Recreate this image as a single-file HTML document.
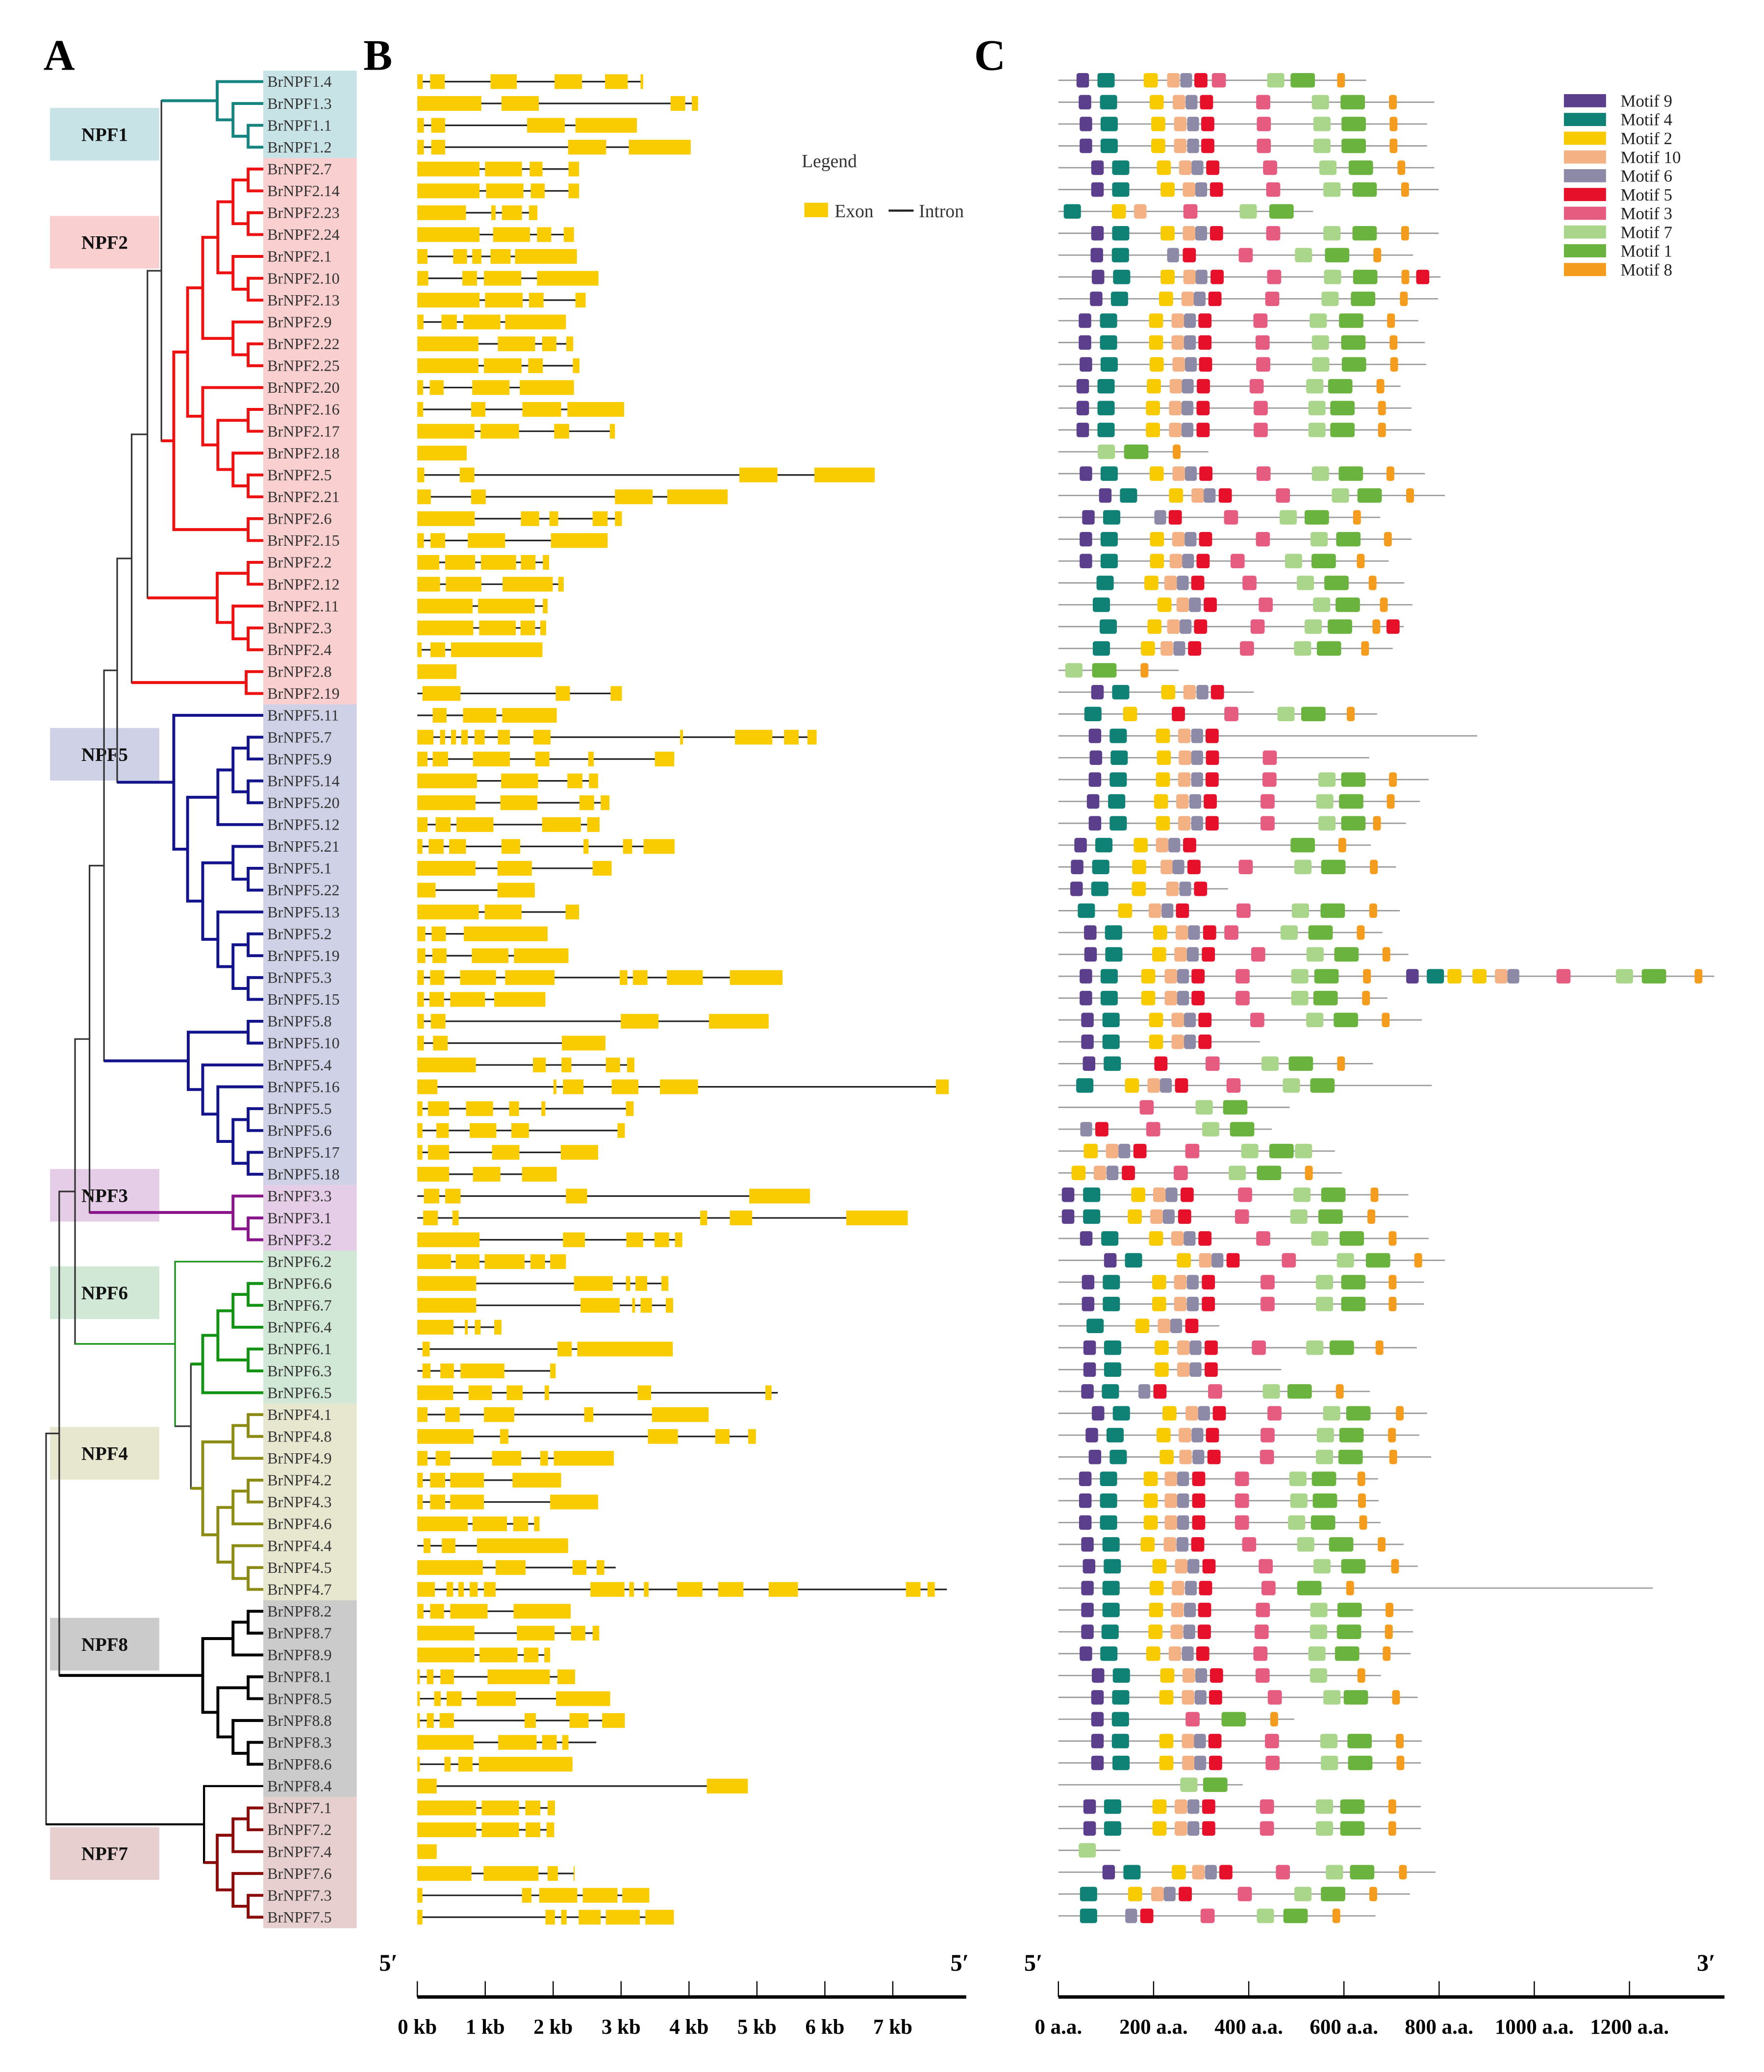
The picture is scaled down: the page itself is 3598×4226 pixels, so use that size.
<!DOCTYPE html>
<html><head><meta charset="utf-8">
<style>
html,body{margin:0;padding:0;background:#fff;}
svg{display:block;}
text{font-family:"Liberation Serif",serif;}
</style></head>
<body>
<svg id="fig" xmlns="http://www.w3.org/2000/svg" width="3598" height="4226" viewBox="0 0 1340 1574" preserveAspectRatio="none">
<rect x="0" y="0" width="1340" height="1574" fill="#fff"/>
<text x="33" y="53" font-size="33" font-weight="bold">A</text>
<text x="276" y="53" font-size="33" font-weight="bold">B</text>
<text x="740" y="53" font-size="33" font-weight="bold">C</text>
<g id="gBg"></g><g id="gTree"></g><g id="gGenes"></g><g id="gMotifs"></g><g id="gAxes"></g><g id="gLeg"></g>
</svg>
<script>
// ---------- data ----------
const geneNames = ["BrNPF1.4","BrNPF1.3","BrNPF1.1","BrNPF1.2",
"BrNPF2.7","BrNPF2.14","BrNPF2.23","BrNPF2.24","BrNPF2.1","BrNPF2.10","BrNPF2.13","BrNPF2.9","BrNPF2.22","BrNPF2.25","BrNPF2.20","BrNPF2.16","BrNPF2.17","BrNPF2.18","BrNPF2.5","BrNPF2.21","BrNPF2.6","BrNPF2.15","BrNPF2.2","BrNPF2.12","BrNPF2.11","BrNPF2.3","BrNPF2.4","BrNPF2.8","BrNPF2.19",
"BrNPF5.11","BrNPF5.7","BrNPF5.9","BrNPF5.14","BrNPF5.20","BrNPF5.12","BrNPF5.21","BrNPF5.1","BrNPF5.22","BrNPF5.13","BrNPF5.2","BrNPF5.19","BrNPF5.3","BrNPF5.15","BrNPF5.8","BrNPF5.10","BrNPF5.4","BrNPF5.16","BrNPF5.5","BrNPF5.6","BrNPF5.17","BrNPF5.18",
"BrNPF3.3","BrNPF3.1","BrNPF3.2",
"BrNPF6.2","BrNPF6.6","BrNPF6.7","BrNPF6.4","BrNPF6.1","BrNPF6.3","BrNPF6.5",
"BrNPF4.1","BrNPF4.8","BrNPF4.9","BrNPF4.2","BrNPF4.3","BrNPF4.6","BrNPF4.4","BrNPF4.5","BrNPF4.7",
"BrNPF8.2","BrNPF8.7","BrNPF8.9","BrNPF8.1","BrNPF8.5","BrNPF8.8","BrNPF8.3","BrNPF8.6","BrNPF8.4",
"BrNPF7.1","BrNPF7.2","BrNPF7.4","BrNPF7.6","BrNPF7.3","BrNPF7.5"];

const groupNames = ["NPF1","NPF2","NPF5","NPF3","NPF6","NPF4","NPF8","NPF7"];
const groupFirst = [0,4,29,51,54,61,70,79];
const groupLast  = [3,28,50,53,60,69,78,84];
const groupBoxTop = [82,164,553,888,962,1084,1229,1388];
const groupBg = ["#c7e3e5","#f9cfcf","#cfd1e7","#e6cde7","#d0e8d5","#e7e7cf","#cbcbcb","#e8cfcf"];
const groupCol = ["#16857f","#ee1111","#13138c","#8a158a","#139313","#8c8c14","#000000","#8b0a0a"];

// exon coordinates (genomic units, 185.6 units = 1 kb, gene starts at 30)
const exons = [
[[30,45],[65,105],[230,302],[405,480],[543,605],[640,647]],
[[30,205],[260,362],[722,762],[780,797]],
[[30,48],[68,106],[330,433],[462,630]],
[[30,48],[68,106],[442,546],[608,777]],
[[30,200],[215,316],[337,372],[443,472]],
[[30,200],[218,320],[340,378],[443,472]],
[[30,163],[232,244],[261,316],[335,358]],
[[30,200],[237,338],[357,396],[430,458]],
[[30,58],[128,166],[180,205],[230,285],[297,466]],
[[30,60],[153,193],[212,314],[357,525]],
[[30,200],[215,318],[335,375],[462,490]],
[[30,47],[96,138],[156,257],[270,436]],
[[30,197],[250,352],[371,410],[437,456]],
[[30,197],[212,315],[333,373],[455,473]],
[[30,46],[64,102],[180,282],[310,458]],
[[30,46],[177,216],[317,423],[440,595]],
[[30,186],[203,308],[404,445],[556,570]],
[[30,165]],
[[30,49],[146,186],[910,1014],[1115,1280]],
[[30,67],[177,217],[570,673],[713,878]],
[[30,187],[313,363],[391,415],[509,550],[570,589]],
[[30,48],[66,106],[168,270],[395,550]],
[[30,90],[106,188],[204,300],[313,353],[373,390]],
[[30,92],[108,205],[263,400],[415,430]],
[[30,181],[196,351],[373,386]],
[[30,183],[199,299],[312,352],[366,382]],
[[30,42],[66,106],[122,372]],
[[30,137]],
[[44,148],[408,447],[558,589]],
[[72,110],[155,246],[262,411]],
[[30,74],[92,106],[122,136],[150,168],[186,214],[250,283],[347,394],[748,756],[898,1000],[1032,1072],[1096,1121]],
[[30,58],[72,114],[182,283],[352,391],[497,512],[679,732]],
[[30,193],[259,360],[440,481],[499,524]],
[[30,189],[257,358],[473,513],[531,555]],
[[30,58],[80,121],[137,238],[371,477],[494,528]],
[[30,44],[61,102],[117,163],[260,311],[484,498],[592,617],[648,733]],
[[30,189],[249,343],[509,561]],
[[30,80],[249,351]],
[[30,198],[214,315],[435,472]],
[[30,52],[69,108],[157,386]],
[[30,52],[71,110],[179,279],[294,443]],
[[30,48],[65,104],[147,245],[270,405],[583,604],[619,659],[712,810],[884,1028]],
[[30,48],[63,103],[120,215],[240,380]],
[[30,48],[67,107],[586,689],[827,990]],
[[30,48],[73,113],[425,544]],
[[30,190],[346,381],[424,451],[545,584],[603,623]],
[[30,85],[402,410],[428,484],[561,634],[693,797],[1447,1482]],
[[30,44],[59,117],[163,237],[281,308],[369,380],[600,621]],
[[30,44],[82,116],[173,246],[287,335],[577,597]],
[[30,44],[59,117],[234,309],[422,524]],
[[30,117],[182,257],[316,411]],
[[48,90],[106,148],[436,494],[937,1103]],
[[46,86],[126,143],[803,822],[884,945],[1202,1370]],
[[30,200],[428,488],[601,647],[678,718],[734,754]],
[[30,122],[135,200],[214,323],[339,379],[393,436]],
[[30,191],[458,564],[600,612],[626,658],[697,716]],
[[30,191],[476,583],[617,625],[640,671],[709,729]],
[[30,129],[160,168],[187,203],[240,260]],
[[44,64],[413,452],[467,728]],
[[44,66],[93,130],[148,268],[393,408]],
[[30,128],[170,234],[274,318],[378,390],[632,669],[981,998]],
[[30,58],[106,146],[212,295],[486,511],[671,826]],
[[30,184],[256,279],[660,742],[844,883],[934,955]],
[[30,58],[80,120],[234,314],[366,387],[403,567]],
[[30,45],[65,106],[120,212],[290,423]],
[[30,45],[65,106],[120,212],[393,524]],
[[30,168],[181,275],[292,333],[349,364]],
[[47,66],[97,134],[193,442]],
[[30,209],[244,326],[454,492],[520,541]],
[[30,78],[110,128],[142,157],[173,195],[212,244],[503,596],[609,622],[649,662],[740,809],[852,921],[990,1070],[1365,1405],[1424,1444]],
[[30,47],[65,103],[120,222],[293,449]],
[[30,186],[302,405],[450,489],[509,527]],
[[30,186],[200,304],[321,361],[377,393]],
[[30,37],[56,74],[93,130],[222,392],[413,461]],
[[30,37],[76,94],[110,151],[192,299],[409,557]],
[[30,37],[56,75],[91,130],[323,354],[446,498],[535,597]],
[[30,184],[251,356],[371,411],[426,443]],
[[30,37],[104,121],[142,181],[198,454]],
[[30,83],[821,933]],
[[30,191],[206,308],[325,366],[386,406]],
[[30,191],[206,308],[326,366],[383,404]],
[[30,83]],
[[30,178],[211,361],[386,414],[457,460]],
[[30,44],[316,342],[363,467],[482,577],[590,664]],
[[30,44],[380,406],[423,438],[471,531],[545,638],[653,731]]];
const geneEndOverride = {60:1015, 68:572, 69:1477, 76:519};

// motifs: flat [motifId, start, ...] (protein units, 1.523 units = 1 aa, start at 55)
const motifIds = [9,4,2,10,6,5,3,7,1,8];
const motifColors = ["#5b3f8c","#0f8275","#f8ca00","#f4b184","#8d8aa8","#e6102a","#e65b80","#a9d68b","#6bb33f","#f39c1d"];
const motifLen = {9:40,4:55,2:45,10:40,6:38,5:42,3:45,7:55,1:78,8:25};
const motifs = [
[9,113,4,180,2,328,10,403,6,445,5,490,3,546,7,723,1,798,8,947],
[9,120,4,188,2,347,10,421,6,462,5,508,3,688,7,866,1,958,8,1113],
[9,123,4,190,2,352,10,425,6,467,5,512,3,690,7,871,1,961,8,1115],
[9,123,4,190,2,352,10,425,6,467,5,512,3,690,7,871,1,961,8,1115],
[9,160,4,227,2,370,10,441,6,481,5,528,3,710,7,890,1,984,8,1140],
[9,160,4,227,2,382,10,453,6,493,5,540,3,720,7,903,1,996,8,1152],
[4,72,2,226,10,297,3,455,7,635,1,730],
[9,160,4,227,2,382,10,453,6,493,5,540,3,720,7,903,1,996,8,1152],
[9,158,4,226,6,403,5,453,3,632,7,812,1,908,8,1063],
[9,162,4,230,2,382,10,455,6,494,5,542,3,723,7,905,1,998,8,1153,5,1200],
[9,156,4,223,2,377,10,449,6,488,5,535,3,717,7,897,1,991,8,1148],
[9,120,4,188,2,345,10,417,6,457,5,503,3,679,7,859,1,953,8,1107],
[9,120,4,188,2,345,10,417,6,457,5,503,3,686,7,866,1,960,8,1115],
[9,123,4,190,2,347,10,420,6,460,5,505,3,688,7,867,1,962,8,1117],
[9,113,4,180,2,338,10,411,6,450,5,498,3,667,7,848,1,918,8,1073],
[9,113,4,180,2,335,10,409,6,449,5,497,3,680,7,855,1,925,8,1078],
[9,113,4,180,2,335,10,409,6,449,5,497,3,680,7,855,1,925,8,1078],
[7,181,1,265,8,421],
[9,123,4,190,2,347,10,420,6,460,5,506,3,689,7,866,1,952,8,1105],
[9,185,4,252,2,409,10,481,6,520,5,568,3,751,7,930,1,1012,8,1168],
[9,131,4,198,6,362,5,408,3,585,7,763,1,843,8,998],
[9,123,4,190,2,348,10,419,6,459,5,505,3,687,7,862,1,944,8,1097],
[9,123,4,190,2,348,10,411,6,451,5,497,3,606,7,780,1,865,8,1010],
[4,177,2,330,10,394,6,434,5,480,3,644,7,818,1,906,8,1048],
[4,165,2,372,10,433,6,473,5,520,3,696,7,870,1,942,8,1084],
[4,187,2,340,10,403,6,443,5,489,3,670,7,843,1,917,8,1060,5,1105],
[4,165,2,319,10,382,6,423,5,470,3,636,7,809,1,882,8,1024],
[7,77,1,163,8,318],
[9,160,4,227,2,384,10,455,6,497,5,543],
[4,138,2,262,5,418,3,586,7,756,1,832,8,978],
[9,152,4,219,2,367,10,438,6,480,5,526],
[9,155,4,222,2,370,10,440,6,480,5,527,3,709],
[9,152,4,219,2,367,10,438,6,480,5,526,3,708,7,887,1,960,8,1113],
[9,146,4,214,2,361,10,432,6,474,5,520,3,702,7,880,1,953,8,1106],
[9,152,4,219,2,367,10,438,6,480,5,526,3,702,7,887,1,960,8,1062],
[9,106,4,173,2,296,10,367,6,407,5,454,1,798,8,951],
[9,95,4,163,2,291,10,382,6,420,5,468,3,632,7,810,1,896,8,1052],
[9,93,4,160,2,290,10,400,6,442,5,489],
[4,117,2,246,10,344,6,385,5,431,3,625,7,802,1,894,8,1050],
[9,137,4,204,2,358,10,430,6,470,5,518,3,586,7,766,1,855,8,1010],
[9,138,4,205,2,355,10,426,6,466,5,514,3,672,7,849,1,938,8,1092],
[9,123,4,190,2,320,10,395,6,435,5,481,3,622,7,800,1,874,8,1030,9,1168,4,1234,2,1300,2,1380,10,1452,6,1492,3,1649,7,1839,1,1922,8,2091],
[9,123,4,190,2,320,10,395,6,435,5,481,3,622,7,800,1,871,8,1027],
[9,128,4,196,2,345,10,417,6,457,5,503,3,669,7,848,1,936,8,1090],
[9,128,4,196,2,345,10,417,6,457,5,503],
[9,133,4,200,5,362,3,526,7,705,1,792,8,947],
[4,112,2,268,10,340,6,380,5,428,3,593,7,773,1,861],
[3,315,7,494,1,582],
[6,125,5,173,3,336,7,515,1,604],
[2,136,10,207,6,247,5,295,3,461,7,640,1,730,7,812],
[2,97,10,168,6,209,5,258,3,424,7,600,1,690,8,844],
[9,66,4,134,2,288,10,358,6,398,5,446,3,630,7,807,1,896,8,1054],
[9,66,4,134,2,277,10,349,6,389,5,438,3,620,7,797,1,887,8,1044],
[9,124,4,192,2,345,10,416,6,456,5,503,3,688,7,864,1,955,8,1112],
[9,201,4,268,2,434,10,505,6,545,5,593,3,770,7,946,1,1039,8,1194],
[9,130,4,197,2,355,10,425,6,466,5,514,3,702,7,879,1,960,8,1112],
[9,130,4,197,2,355,10,425,6,466,5,514,3,702,7,879,1,960,8,1112],
[4,145,2,301,10,373,6,413,5,461],
[9,135,4,201,2,363,10,435,6,475,5,523,3,674,7,848,1,923,8,1070],
[9,135,4,201,2,363,10,435,6,475,5,523],
[9,128,4,194,6,311,5,359,3,534,7,709,1,788,8,943],
[9,162,4,229,2,388,10,462,6,502,5,549,3,724,7,902,1,976,8,1135],
[9,142,4,209,2,369,10,440,6,481,5,527,3,702,7,882,1,954,8,1110],
[9,152,4,219,2,379,10,442,6,484,5,532,3,700,7,879,1,951,8,1114],
[9,121,4,188,2,328,10,395,6,435,5,483,3,620,7,794,1,866,8,1012],
[9,121,4,188,2,328,10,395,6,435,5,483,3,620,7,797,1,869,8,1014],
[9,121,4,188,2,328,10,395,6,435,5,483,3,620,7,790,1,863,8,1018],
[9,128,4,196,2,318,10,392,6,433,5,480,3,643,7,819,1,921,8,1077],
[9,133,4,200,2,356,10,428,6,468,5,516,3,696,7,871,1,960,8,1120],
[9,128,4,196,2,347,10,418,6,460,5,505,3,705,1,819,8,976],
[9,128,4,196,2,345,10,416,6,457,5,502,3,687,7,861,1,948,8,1102],
[9,128,4,193,2,343,10,414,6,455,5,501,3,683,7,860,1,946,8,1100],
[9,123,4,189,2,336,10,408,6,450,5,496,3,679,7,855,1,940,8,1093],
[9,162,4,229,2,381,10,452,6,493,5,540,3,686,7,860,8,1012],
[9,160,4,227,2,378,10,450,6,491,5,537,3,725,7,903,1,968,8,1123],
[9,160,4,226,3,462,1,577,8,733],
[9,160,4,226,2,378,10,450,6,489,5,535,3,716,7,893,1,980,8,1135],
[9,160,4,228,2,378,10,451,6,490,5,537,3,718,7,895,1,982,8,1137],
[7,445,1,518],
[9,135,4,201,2,356,10,427,6,468,5,515,3,700,7,879,1,957,8,1111],
[9,135,4,201,2,356,10,427,6,468,5,515,3,700,7,879,1,957,8,1111],
[7,120],
[9,196,4,263,2,418,10,483,6,524,5,570,3,751,7,911,1,988,8,1145],
[4,124,2,278,10,352,6,392,5,440,3,629,7,810,1,895,8,1050],
[4,124,6,269,5,317,3,510,7,690,1,775,8,932]];
const protEnd = [1040,1258,1235,1235,1258,1272,870,1272,1190,1278,1270,1207,1228,1232,1150,1185,1185,535,1228,1292,1085,1185,1112,1162,1188,1160,1125,440,680,
1075,1395,1050,1240,1212,1167,1055,1135,598,1148,1092,1175,2154,1108,1218,700,1062,1250,795,738,940,962,
1175,1175,1240,1292,1225,1225,570,1202,768,1052,1235,1210,1248,1078,1080,1086,1160,1205,1957,1190,1190,1182,1087,1205,810,1218,1215,645,1215,1215,253,1262,1180,1070];

const kbTicks = ["0 kb","1 kb","2 kb","3 kb","4 kb","5 kb","6 kb","7 kb"];
const aaTicks = ["0 a.a.","200 a.a.","400 a.a.","600 a.a.","800 a.a.","1000 a.a.","1200 a.a."];
const legendLabels = ["Motif 9","Motif 4","Motif 2","Motif 10","Motif 6","Motif 5","Motif 3","Motif 7","Motif 1","Motif 8"];

// ---------- scales ----------
const NS="http://www.w3.org/2000/svg";
function rowY(i){return 62 + i*16.6;}
function toKb(u){return (u-30)/185.6;}
function xKb(kb){return 317 + kb*51.6;}
function toAA(u){return (u-55)/1.523;}
function xAA(aa){return 804 + aa*0.3615;}
function el(tag,attrs,parent,txt){const e=document.createElementNS(NS,tag);for(const k in attrs)e.setAttribute(k,attrs[k]);if(txt!==undefined)e.textContent=txt;parent.appendChild(e);return e;}

const gBg=document.getElementById('gBg'),gTree=document.getElementById('gTree'),gGenes=document.getElementById('gGenes'),gMotifs=document.getElementById('gMotifs'),gAxes=document.getElementById('gAxes'),gLeg=document.getElementById('gLeg');

// ---------- group backgrounds & labels ----------
groupNames.forEach((g,k)=>{
  const top=rowY(groupFirst[k])-8.3, bot=rowY(groupLast[k])+8.3;
  const r=el('rect',{x:200,y:top,width:71,height:bot-top,fill:groupBg[k]},gBg);
  
  
  const b=el('rect',{x:38,y:groupBoxTop[k],width:83,height:40,fill:groupBg[k]},gBg);
  
  
  const t=el('text',{x:79.5,y:groupBoxTop[k]+25,'font-size':14.5,'font-weight':'bold','text-anchor':'middle',fill:'#111'},gBg,g);
  
  
});
geneNames.forEach((n,i)=>{
  const t=el('text',{x:203,y:rowY(i)+4,'font-size':12,fill:'#333'},gBg,n);
  
  
});

// ---------- tree ----------
function clade(tree,rootX,col,w){
  function H(t){return Array.isArray(t)?1+Math.max(...t.map(H)):0;}
  const Ht=H(tree);
  function build(t,isRoot){
    if(!Array.isArray(t)) return t;
    const h=H(t);
    const x=isRoot?rootX:Math.max(rootX+6,200-11.5*h);
    return {x:x,c:t.map(s=>build(s,false)),col:col,w:w};
  }
  return build(tree,true);
}
function N(x,c,col,w){return {x:x,c:c,col:col||'#333',w:w||1.2};}
const NPF1=clade([0,[1,[2,3]]],165,groupCol[0],2.2);
const NPF2a=clade([[[[[[4,5],[6,7]],[8,[9,10]]],[11,[12,13]]],[14,[[15,16],[17,[18,19]]]]],[20,21]],132,groupCol[1],2.2);
const NPF2b=clade([[22,23],[24,[25,26]]],165,groupCol[1],2.2);
const NPF2c=clade([27,28],187,groupCol[1],2.2);
const NPF5a=clade([29,[[[[30,31],[32,33]],34],[[35,[36,37]],[38,[[39,40],[41,42]]]]]],132,groupCol[2],2.2);
const NPF5b=clade([[43,44],[45,[46,[[47,48],[49,50]]]]],143,groupCol[2],2.2);
const NPF3=clade([51,[52,53]],177,groupCol[3],2.2);
const NPF6=clade([[[[55,56],57],[58,59]],60],154,groupCol[4],2.2);
const NPF4=clade([[[61,62],63],[[[64,65],66],[67,[68,69]]]],154,groupCol[5],2.2);
const NPF8=clade([[[70,71],72],[[73,74],[75,[76,77]]]],154,'#000',2.2);
const NPF7=clade([[[79,80],81],[82,[83,84]]],165,groupCol[7],2.2);
const treeRoot=N(35,[
  N(45,[
    N(57,[
      N(68,[
        N(79,[
          N(89,[
            N(100,[N(112,[N(122.6,[NPF1,NPF2a]),NPF2b]),NPF2c]),
            NPF5a]),
          NPF5b]),
        NPF3]),
      N(133,[54,N(145,[NPF6,NPF4])],groupCol[4],1.2)]),
    NPF8]),
  N(155,[78,NPF7],'#000',1.6)]);
function nodeY(n){ if(typeof n==='number') return rowY(n); if(n._y===undefined){const ys=n.c.map(nodeY); n._y=(ys[0]+ys[ys.length-1])/2;} return n._y; }
function drawNode(n){
  const ys=n.c.map(nodeY);
  const v=el('line',{x1:n.x,x2:n.x,y1:ys[0],y2:ys[ys.length-1],stroke:n.col,'stroke-width':n.w,'stroke-linecap':'square'},gTree);
  
  
  n.c.forEach((ch,j)=>{
    const leaf=typeof ch==='number';
    const cx=leaf?200:ch.x, col=leaf?n.col:ch.col, w=leaf?n.w:ch.w;
    const h=el('line',{x1:n.x,x2:cx,y1:ys[j],y2:ys[j],stroke:col,'stroke-width':w},gTree);
    
    
    if(!leaf) drawNode(ch);
  });
}
drawNode(treeRoot);

// ---------- gene structures ----------
exons.forEach((ex,i)=>{
  const y=rowY(i);
  const start=Math.min(30,ex[0][0]);
  const end=Math.max(ex[ex.length-1][1], geneEndOverride[i]||0);
  const ln=el('line',{x1:xKb(toKb(start)),x2:xKb(toKb(end)),y1:y,y2:y,stroke:'#222','stroke-width':1.2},gGenes);
  
  
  ex.forEach(e=>{
    const x1=xKb(toKb(e[0])), x2=xKb(toKb(e[1]));
    const r=el('rect',{x:x1,y:y-5.6,width:Math.max(0.8,x2-x1),height:11.2,fill:'#f8cc00'},gGenes);
    
    
  });
});

// ---------- motifs ----------
motifs.forEach((m,i)=>{
  const y=rowY(i)-1;
  const ln=el('line',{x1:xAA(0),x2:xAA(toAA(protEnd[i])),y1:y,y2:y,stroke:'#9a9a9a','stroke-width':1},gMotifs);
  
  
  for(let k=0;k<m.length;k+=2){
    const id=m[k], s=m[k+1];
    const x1=xAA(toAA(s)), x2=xAA(toAA(s+motifLen[id]));
    const r=el('rect',{x:x1,y:y-5.5,width:x2-x1,height:11,rx:1.8,fill:motifColors[motifIds.indexOf(id)]},gMotifs);
    
    
  }
});

// ---------- axes ----------
const axB=el('line',{x1:317,x2:734,y1:1517,y2:1517,stroke:'#000','stroke-width':2.6},gAxes);


kbTicks.forEach((lab,k)=>{
  const x=xKb(k);
  const t=el('line',{x1:x,x2:x,y1:1505,y2:1517,stroke:'#000','stroke-width':0.9},gAxes);
  
  
  const tx=el('text',{x:x,y:1545,'font-size':16,'font-weight':'bold','text-anchor':'middle'},gAxes,lab);
  
  
});
const axC=el('line',{x1:804,x2:1310,y1:1517,y2:1517,stroke:'#000','stroke-width':2.6},gAxes);


aaTicks.forEach((lab,k)=>{
  const x=xAA(k*200);
  const t=el('line',{x1:x,x2:x,y1:1505,y2:1517,stroke:'#000','stroke-width':0.9},gAxes);
  
  
  const tx=el('text',{x:x,y:1545,'font-size':16,'font-weight':'bold','text-anchor':'middle'},gAxes,lab);
  
  
});
[[295,"5\u2032","b-5prime-left"],[729,"5\u2032","b-5prime-right"],[785,"5\u2032","c-5prime"],[1296,"3\u2032","c-3prime"]].forEach(p=>{
  const t=el('text',{x:p[0],y:1497,'font-size':18,'font-weight':'bold','text-anchor':'middle'},gAxes,p[1]);
  
  
});

// ---------- legends ----------
const lt=el('text',{x:609,y:127,'font-size':14,fill:'#333'},gLeg,'Legend');


const lx=el('rect',{x:611,y:154,width:18,height:11,fill:'#f8cc00'},gLeg);


const lxt=el('text',{x:634,y:165,'font-size':14,fill:'#333'},gLeg,'Exon');


const li=el('line',{x1:675,x2:694,y1:160,y2:160,stroke:'#222','stroke-width':1.6},gLeg);


const lit=el('text',{x:698,y:165,'font-size':14,fill:'#333'},gLeg,'Intron');


legendLabels.forEach((lab,k)=>{
  const y=76.5+k*14.25;
  const r=el('rect',{x:1188,y:y-5,width:32,height:10,fill:motifColors[k]},gLeg);
  
  
  const t=el('text',{x:1231,y:y+4.5,'font-size':13,fill:'#222'},gLeg,lab);
  
  
});
</script>
</body></html>
